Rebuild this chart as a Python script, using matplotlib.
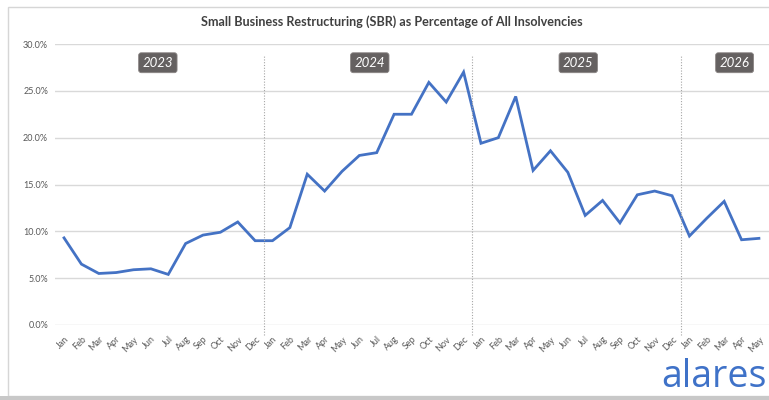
import matplotlib.pyplot as plt
from matplotlib.patches import Rectangle

# Data: SBR share of all insolvencies (%), Jan 2023 - May 2026
months = ['Jan', 'Feb', 'Mar', 'Apr', 'May', 'Jun', 'Jul', 'Aug', 'Sep', 'Oct', 'Nov', 'Dec']
years = ['2023', '2024', '2025', '2026']
sbr_2023 = [9.3, 6.5, 5.5, 5.6, 5.9, 6.0, 5.4, 8.7, 9.6, 9.9, 11.0, 9.0]
sbr_2024 = [9.0, 10.4, 16.1, 14.3, 16.4, 18.1, 18.4, 22.5, 22.5, 25.9, 23.8, 27.0]
sbr_2025 = [19.4, 20.0, 24.4, 16.5, 18.6, 16.3, 11.7, 13.3, 10.9, 13.9, 14.3, 13.8]
sbr_2026 = [9.5, 11.4, 13.2, 9.1, 9.25]

values = sbr_2023 + sbr_2024 + sbr_2025 + sbr_2026
labels = months * 3 + months[:len(sbr_2026)]
x = list(range(len(values)))

plt.rcParams['font.family'] = ['Lato', 'DejaVu Sans']

fig = plt.figure(figsize=(7.69, 4.0), dpi=100)
fig.patch.set_facecolor('white')

# card outline of the screenshot
fig.patches.append(Rectangle((8 / 769, 4 / 400), 1.0, 389 / 400, transform=fig.transFigure,
                             fill=False, edgecolor='#d6d6d6', linewidth=1.0))
fig.patches.append(Rectangle((0, 0), 1.0, 4 / 400, transform=fig.transFigure,
                             facecolor='#c8c8c8', edgecolor='none'))

ax = fig.add_axes([55 / 769, 75 / 400, 714 / 769, 281 / 400])
ax.plot(x, values, color='#4472C4', linewidth=2.0, solid_joinstyle='miter')

ax.set_xlim(-0.52, 40.58)
ax.set_ylim(0, 30)
ax.set_yticks([0, 5, 10, 15, 20, 25, 30])
ax.set_yticklabels([f'{v:.1f}%' for v in [0, 5, 10, 15, 20, 25, 30]])
ax.set_xticks(x)
ax.set_xticklabels(labels, rotation=45, ha='right', rotation_mode='anchor')
ax.tick_params(axis='both', length=0, labelsize=6.5, labelcolor='#595959')
ax.tick_params(axis='x', pad=7)
ax.tick_params(axis='y', pad=5)
ax.grid(axis='y', color='#d9d9d9', linewidth=1.0)
ax.set_axisbelow(True)
for s in ax.spines.values():
    s.set_visible(False)

# year separators
cuts = [len(sbr_2023) - 0.5, len(sbr_2023) + len(sbr_2024) - 0.5,
        len(sbr_2023) + len(sbr_2024) + len(sbr_2025) - 0.5]
for c in cuts:
    ax.plot([c, c], [-1.1, 28.8], color='#a6a6a6', linestyle=(0, (1, 1.5)),
            linewidth=0.8, clip_on=False)

# year tags
tag_x = [5.4, 17.6, 29.6, 38.6]
for xp, yr in zip(tag_x, years):
    ax.text(xp, 28.0, yr, ha='center', va='center', fontsize=9.5, style='italic',
            color='white',
            bbox=dict(boxstyle='round,pad=0.3,rounding_size=0.2', facecolor='#656161',
                      edgecolor='#8a8584', linewidth=0.6))

fig.text(392 / 769, 1 - 22 / 400,
         'Small Business Restructuring (SBR) as Percentage of All Insolvencies',
         ha='center', va='center', fontsize=9.1, fontweight='bold', color='#404040')

fig.text(767 / 769, 13 / 400, 'alares', ha='right', va='baseline', fontsize=27,
         color='#3f72c8', family=['Open Sans', 'DejaVu Sans'])

plt.savefig('out.png', dpi=100)
